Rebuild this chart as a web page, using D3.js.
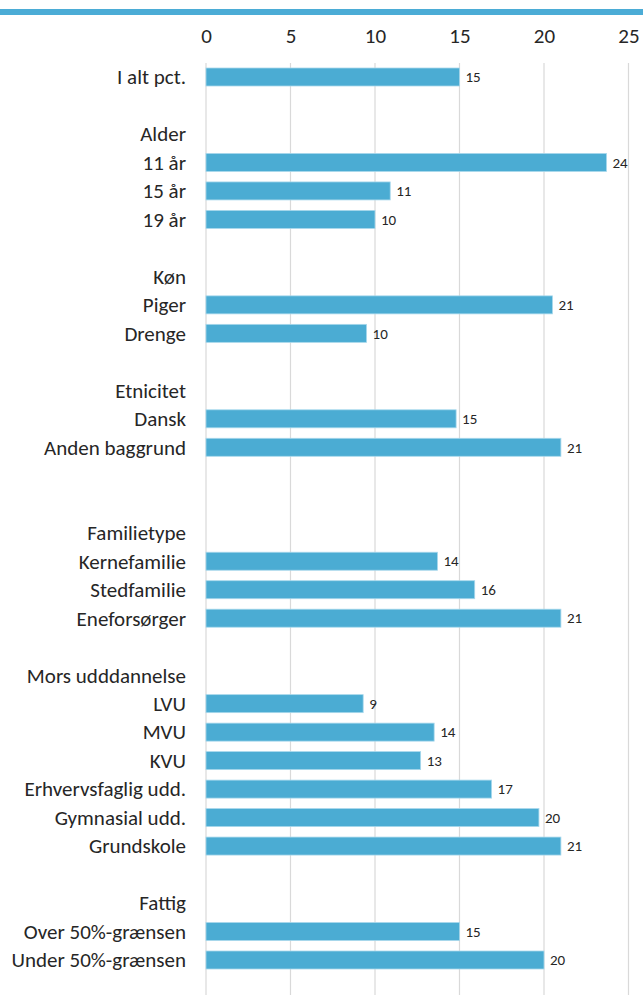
<!DOCTYPE html>
<html>
<head>
<meta charset="utf-8">
<script src="https://cdn.jsdelivr.net/npm/d3@7"></script>
<style>
  html, body { margin: 0; padding: 0; background: #fff; }
  svg { display: block; }
  text { font-family: Carlito, Calibri, Lato, "Open Sans", sans-serif; }
</style>
</head>
<body>
<svg id="chart" width="643" height="995"></svg>
<script>
// Row labels (empty strings are spacer rows, group headings have null values)
const rowLabels = [
  "I alt pct.", "", "Alder", "11 år", "15 år", "19 år", "",
  "Køn", "Piger", "Drenge", "",
  "Etnicitet", "Dansk", "Anden baggrund", "", "",
  "Familietype", "Kernefamilie", "Stedfamilie", "Eneforsørger", "",
  "Mors udddannelse", "LVU", "MVU", "KVU", "Erhvervsfaglig udd.", "Gymnasial udd.", "Grundskole", "",
  "Fattig", "Over 50%-grænsen", "Under 50%-grænsen"
];
const rowValues = [
  15.0, null, null, 23.7, 10.9, 10.0, null,
  null, 20.5, 9.5, null,
  null, 14.8, 21.0, null, null,
  null, 13.7, 15.9, 21.0, null,
  null, 9.3, 13.5, 12.7, 16.9, 19.7, 21.0, null,
  null, 15.0, 20.0
];
const xTicks = [0, 5, 10, 15, 20, 25];

const rows = rowLabels.map((label, i) => ({ key: "r" + i, label, value: rowValues[i] }));

const svg = d3.select("#chart");
const W = 643, H = 995;
const x0 = 206, x1 = 628.5;
const FONT = "Carlito, Calibri, Lato, 'Open Sans', sans-serif";

// top accent band
svg.append("rect").attr("x", 0).attr("y", 9).attr("width", W).attr("height", 6).attr("fill", "#4BACD6");

const x = d3.scaleLinear().domain([0, 25]).range([x0, x1]);
const y = d3.scalePoint().domain(rows.map(d => d.key)).range([77, 960]);
const barH = 18;

// gridlines
svg.append("g").selectAll("line").data(xTicks).join("line")
  .attr("x1", d => x(d)).attr("x2", d => x(d))
  .attr("y1", 63).attr("y2", H)
  .attr("stroke", "#d9d9d9").attr("stroke-width", 1.2);

// top axis labels
const axis = d3.axisTop(x).tickValues(xTicks).tickSize(0).tickPadding(0);
const ag = svg.append("g").attr("transform", "translate(0,43)").call(axis);
ag.select(".domain").remove();
ag.selectAll("text").attr("font-size", 21).attr("fill", "#262626")
  .style("font-family", FONT);

// category labels
svg.append("g").selectAll("text").data(rows.filter(d => d.label !== "")).join("text")
  .attr("x", 186).attr("y", d => y(d.key)).attr("dy", "0.35em")
  .attr("text-anchor", "end").attr("font-size", 21).attr("fill", "#262626")
  .text(d => d.label);

const withVal = rows.filter(d => d.value !== null);

// bars
svg.append("g").selectAll("rect").data(withVal).join("rect")
  .attr("x", x(0)).attr("y", d => y(d.key) - barH / 2)
  .attr("width", d => x(d.value) - x(0)).attr("height", barH)
  .attr("fill", "#4BACD3").attr("stroke", "#A8D8EC").attr("stroke-width", 0.8);

// value labels
const fmt = d3.format(".0f");
svg.append("g").selectAll("text").data(withVal).join("text")
  .attr("x", d => x(d.value) + 6).attr("y", d => y(d.key)).attr("dy", "0.35em")
  .attr("font-size", 15).attr("fill", "#262626")
  .text(d => fmt(d.value));
</script>
</body>
</html>
